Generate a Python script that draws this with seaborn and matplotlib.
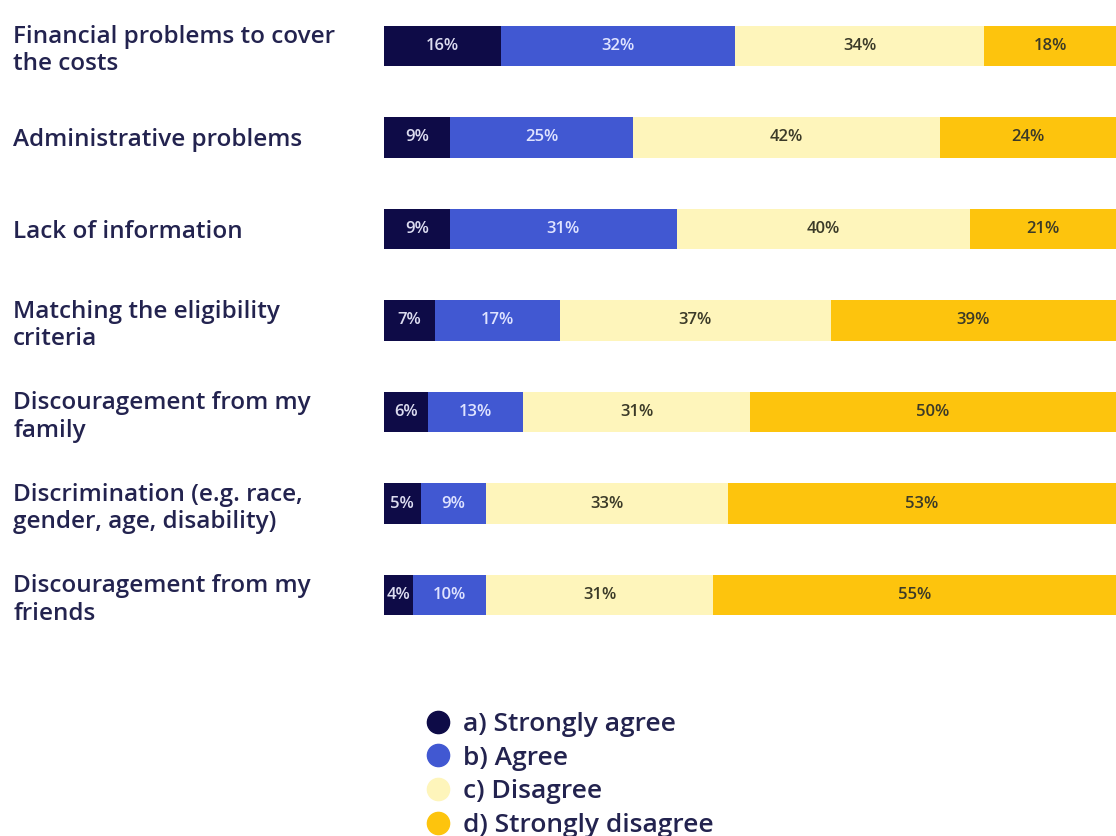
import numpy as np
import pandas as pd
import matplotlib
matplotlib.use("Agg")
import matplotlib.pyplot as plt
from matplotlib.lines import Line2D
import seaborn as sns

categories = [
    "Financial problems to cover\nthe costs",
    "Administrative problems",
    "Lack of information",
    "Matching the eligibility\ncriteria",
    "Discouragement from my\nfamily",
    "Discrimination (e.g. race,\ngender, age, disability)",
    "Discouragement from my\nfriends",
]
strongly_agree = [16, 9, 9, 7, 6, 5, 4]
agree = [32, 25, 31, 17, 13, 9, 10]
disagree = [34, 42, 40, 37, 31, 33, 31]
strongly_disagree = [18, 24, 21, 39, 50, 53, 55]

series_names = ["a) Strongly agree", "b) Agree", "c) Disagree", "d) Strongly disagree"]
series_colors = ["#0e0b47", "#4158d2", "#fef5bb", "#fdc40d"]
text_colors = ["#dcdcf0", "#dfe3ff", "#3b3a28", "#3b3a28"]
navy = "#23234f"

sns.set_theme(style="white")
plt.rcParams["font.family"] = ["Open Sans", "DejaVu Sans"]

values = np.array([strongly_agree, agree, disagree, strongly_disagree], dtype=float)
cum = np.cumsum(values, axis=0)

fig = plt.figure(figsize=(11.16, 8.36), dpi=100)
ax = fig.add_axes([384 / 1116, 1 - 641 / 836, 1 - 384 / 1116, 641 / 836])

# Stacked bars: draw cumulative totals back to front
for i in range(len(series_names) - 1, -1, -1):
    df = pd.DataFrame({"category": categories, "total": cum[i]})
    sns.barplot(data=df, x="total", y="category", orient="h", color=series_colors[i],
                width=0.44, saturation=1, linewidth=0, ax=ax)

# Segment value labels, centred in the visible part of each segment
for i in range(len(series_names)):
    for r, cat in enumerate(categories):
        v = values[i, r]
        start = cum[i, r] - v
        end = min(cum[i, r], 100)
        ax.text((start + end) / 2, r, f"{int(v)}%",
                ha="center", va="center", fontsize=12, fontweight="semibold",
                color=text_colors[i])

ax.set_xlim(0, 100)
ax.set_ylim(6.5, -0.5)
ax.set_xlabel("")
ax.set_ylabel("")
ax.set_xticks([])
for s in ax.spines.values():
    s.set_visible(False)
ax.tick_params(axis="y", length=0, pad=267)
for lab in ax.get_yticklabels():
    lab.set_horizontalalignment("left")
    lab.set_fontsize(17.5)
    lab.set_fontweight("semibold")
    lab.set_color(navy)
    lab.set_linespacing(1.2)

handles = [Line2D([0], [0], marker="o", linestyle="", markersize=16,
                  markerfacecolor=c, markeredgecolor=c) for c in series_colors]
fig.legend(handles, series_names, loc="upper left",
           bbox_to_anchor=(425 / 1116, 1 - 712 / 836), frameon=False,
           handletextpad=0.45, labelspacing=0.33, handlelength=1.0,
           borderaxespad=0, borderpad=0, labelcolor=navy,
           prop={"weight": "semibold", "size": 19})

fig.savefig("out.png", dpi=100)
